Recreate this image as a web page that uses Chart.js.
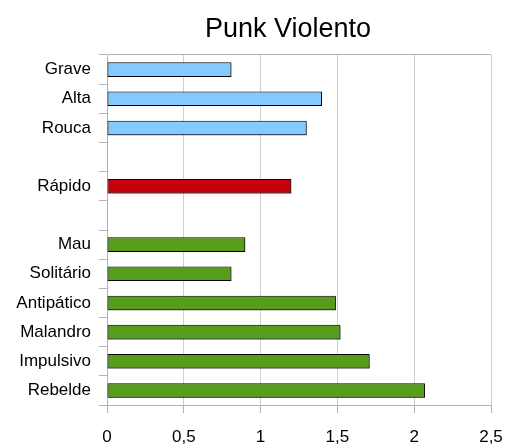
<!DOCTYPE html>
<html>
<head>
<meta charset="utf-8">
<script src="https://cdn.jsdelivr.net/npm/chart.js@4/dist/chart.umd.min.js"></script>
<style>
html,body{margin:0;padding:0;background:#fff;}
#wrap{width:508px;height:444px;position:relative;}
</style>
</head>
<body>
<div id="wrap"><canvas id="c" width="508" height="444"></canvas></div>
<script>
const categories = ['Grave','Alta','Rouca','','Rápido','','Mau','Solitário','Antipático','Malandro','Impulsivo','Rebelde'];
const values = [0.81, 1.40, 1.30, null, 1.20, null, 0.90, 0.81, 1.49, 1.52, 1.71, 2.07];
const barColors = ['#83caff','#83caff','#83caff','#83caff','#c5000b','#c5000b','#579d1c','#579d1c','#579d1c','#579d1c','#579d1c','#579d1c'];
const xTicks = [0, 0.5, 1, 1.5, 2, 2.5];
const title = 'Punk Violento';

const FONT = "'Liberation Sans', Arial, sans-serif";

const titlePlugin = {
  id: 'titlePlugin',
  afterDraw(chart) {
    const ctx = chart.ctx;
    ctx.save();
    ctx.font = "27px " + FONT;
    ctx.fillStyle = '#000';
    ctx.textAlign = 'center';
    ctx.textBaseline = 'alphabetic';
    ctx.fillText(title, 288, 37);
    ctx.restore();
  }
};
const shadowPlugin = {
  id: 'shadowPlugin',
  beforeDatasetsDraw(chart) {
    const ctx = chart.ctx;
    ctx.save();
    ctx.shadowColor = 'rgba(0,0,0,0.45)';
    ctx.shadowOffsetX = 1;
    ctx.shadowOffsetY = 1;
    ctx.shadowBlur = 0;
  },
  afterDatasetsDraw(chart) {
    chart.ctx.restore();
  }
};

new Chart(document.getElementById('c'), {
  type: 'bar',
  data: {
    labels: categories,
    datasets: [{
      data: values,
      backgroundColor: barColors,
      borderColor: '#000',
      borderWidth: 1,
      borderSkipped: false,
      barPercentage: 0.5,
      categoryPercentage: 1.0
    }]
  },
  options: {
    indexAxis: 'y',
    responsive: false,
    animation: false,
    devicePixelRatio: 1,
    layout: { padding: { top: 55, right: 17, left: 0, bottom: 0 } },
    plugins: { legend: { display: false }, title: { display: false }, tooltip: { enabled: false } },
    scales: {
      x: {
        min: 0, max: 2.5,
        afterBuildTicks(scale) { scale.ticks = xTicks.map(v => ({ value: v })); },
        afterFit(scale) { scale.height = 39; scale.paddingLeft = 0; scale.paddingRight = 0; },
        grid: { color: '#d0d0d0', tickColor: '#b3b3b3', tickLength: 8, lineWidth: 1 },
        border: { color: '#b3b3b3' },
        ticks: {
          color: '#000',
          font: { family: FONT, size: 17 },
          padding: 14,
          maxRotation: 0,
          callback: v => String(v).replace('.', ',')
        }
      },
      y: {
        afterFit(scale) { scale.width = 107; scale.paddingTop = 0; scale.paddingBottom = 0; },
        grid: {
          offset: true,
          drawOnChartArea: true,
          color: ctx => ctx.index === 0 ? '#b3b3b3' : 'rgba(0,0,0,0)',
          tickColor: '#b3b3b3',
          tickLength: 8
        },
        border: { color: '#b3b3b3' },
        ticks: {
          color: '#000',
          font: { family: FONT, size: 17 },
          padding: 8,
          autoSkip: false
        }
      }
    }
  },
  plugins: [titlePlugin, shadowPlugin]
});
</script>
</body>
</html>
